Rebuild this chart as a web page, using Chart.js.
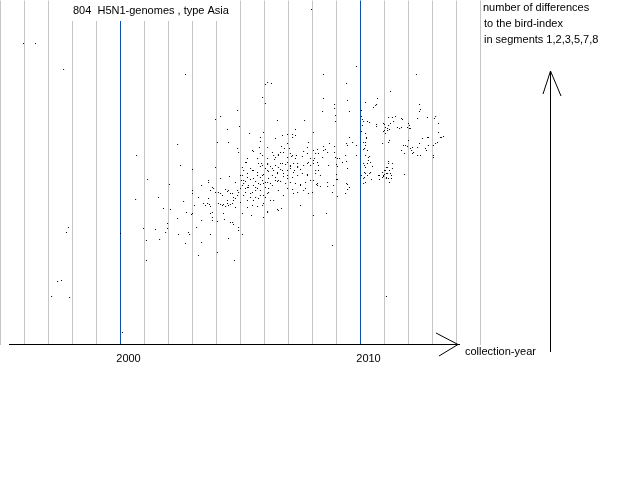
<!DOCTYPE html>
<html>
<head>
<meta charset="utf-8">
<title>804 H5N1-genomes, type Asia</title>
<script src="https://cdn.jsdelivr.net/npm/chart.js@4.4.1/dist/chart.umd.min.js"></script>
<style>
  html, body { margin: 0; padding: 0; background: #fff; }
  canvas { display: block; }
</style>
</head>
<body>
<canvas id="genomeChart" width="640" height="480"></canvas>
<script>
// [collection year, number of differences to the bird-index]
const pointsTo2002 = [
    [1995.96, 301], [1996.46, 301], [1997.63, 275], [1997.75, 112], [1997.83, 117], [1997.38, 63], [1997.54, 64],
    [1997.13, 48], [1997.88, 47], [2000.08, 12], [2000.0, 111], [2000.63, 145], [2000.67, 189], [2000.96, 116],
    [2001.08, 104], [2001.08, 84], [2001.13, 165], [2001.46, 115], [2001.63, 105], [2001.58, 147], [2001.79, 136],
    [2001.88, 112], [2001.96, 116], [2001.96, 121], [2002.08, 135], [2002.04, 160], [2002.38, 126], [2002.38, 200],
    [2002.42, 110], [2002.5, 179], [2002.63, 143], [2002.71, 270], [2002.75, 132], [2002.71, 101], [2002.83, 112],
    [2002.88, 110], [2002.96, 130]
];

const points2003to2005 = [
    [2003.0, 175], [2003.0, 154], [2003.0, 151], [2003.0, 131], [2003.08, 139], [2003.17, 117], [2003.25, 89],
    [2003.25, 147], [2003.38, 124], [2003.38, 102], [2003.38, 159], [2003.46, 141], [2003.54, 139], [2003.63, 141],
    [2003.67, 164], [2003.67, 162], [2003.67, 146], [2003.71, 140], [2003.75, 154], [2003.75, 138], [2003.75, 110],
    [2003.75, 131], [2003.83, 132], [2003.83, 127], [2003.83, 124], [2003.83, 157], [2003.88, 156], [2003.96, 225],
    [2003.96, 177], [2003.96, 152], [2004.04, 202], [2004.04, 92], [2004.04, 123], [2004.08, 152], [2004.08, 141],
    [2004.17, 228], [2004.17, 166], [2004.17, 151], [2004.17, 140], [2004.25, 149], [2004.25, 139], [2004.29, 140],
    [2004.29, 131], [2004.33, 125], [2004.38, 138], [2004.38, 155], [2004.46, 215], [2004.46, 141], [2004.46, 153],
    [2004.5, 202], [2004.5, 139], [2004.5, 154], [2004.5, 106], [2004.54, 168], [2004.58, 140], [2004.58, 151],
    [2004.58, 122], [2004.67, 141], [2004.67, 122], [2004.71, 144], [2004.71, 147], [2004.71, 120], [2004.75, 84],
    [2004.79, 146], [2004.88, 234], [2004.88, 196], [2004.88, 149], [2004.88, 154], [2004.92, 192], [2004.92, 117],
    [2004.92, 114], [2004.96, 218], [2005.0, 169], [2005.0, 156], [2005.04, 164], [2005.08, 131], [2005.08, 177],
    [2005.08, 159], [2005.08, 110], [2005.13, 161], [2005.13, 174], [2005.13, 149], [2005.21, 163], [2005.21, 152],
    [2005.25, 182], [2005.29, 186], [2005.29, 157], [2005.29, 144], [2005.29, 167], [2005.29, 137], [2005.33, 157],
    [2005.38, 211], [2005.42, 147], [2005.42, 176], [2005.42, 165], [2005.46, 129], [2005.5, 194], [2005.5, 152],
    [2005.54, 159], [2005.54, 144], [2005.54, 174], [2005.63, 163], [2005.63, 157], [2005.63, 147], [2005.71, 186],
    [2005.71, 156], [2005.71, 169], [2005.71, 138], [2005.75, 146], [2005.79, 197], [2005.83, 207], [2005.83, 203],
    [2005.83, 154], [2005.83, 178], [2005.83, 167], [2005.83, 160], [2005.88, 181], [2005.92, 247], [2005.92, 189],
    [2005.92, 139], [2005.92, 164], [2005.96, 212], [2005.96, 127], [2005.96, 161], [2005.96, 149], [2005.96, 170],
    [2005.54, 193], [2005.83, 191], [2005.21, 182], [2005.75, 181], [2005.92, 179], [2005.08, 169], [2005.29, 171],
    [2005.5, 174], [2005.71, 172], [2005.92, 169], [2004.79, 162], [2005.13, 164], [2005.33, 159], [2005.54, 166],
    [2005.75, 161], [2004.5, 154], [2004.67, 151], [2004.92, 152], [2005.21, 156], [2005.42, 151], [2005.63, 154],
    [2005.83, 149], [2004.46, 144], [2004.79, 137], [2005.0, 142], [2005.5, 139], [2005.96, 141]
];

const points2006to2008 = [
    [2006.04, 260], [2006.04, 241], [2006.04, 176], [2006.04, 162], [2006.04, 157], [2006.04, 147], [2006.13, 262],
    [2006.13, 151], [2006.13, 133], [2006.13, 180], [2006.13, 197], [2006.13, 186], [2006.17, 173], [2006.17, 166],
    [2006.17, 156], [2006.25, 144], [2006.25, 178], [2006.25, 161], [2006.29, 261], [2006.33, 169], [2006.38, 144],
    [2006.38, 174], [2006.38, 189], [2006.42, 185], [2006.46, 179], [2006.46, 167], [2006.46, 164], [2006.46, 206],
    [2006.46, 187], [2006.54, 163], [2006.54, 172], [2006.54, 224], [2006.54, 135], [2006.58, 177], [2006.58, 189],
    [2006.67, 175], [2006.67, 163], [2006.67, 192], [2006.71, 136], [2006.71, 198], [2006.75, 181], [2006.75, 209],
    [2006.79, 149], [2006.79, 171], [2006.79, 168], [2006.83, 196], [2006.88, 161], [2006.96, 182], [2006.96, 174],
    [2006.96, 166], [2006.96, 156], [2006.96, 210], [2006.96, 201], [2006.96, 187], [2007.04, 196], [2007.08, 179],
    [2007.08, 176], [2007.08, 162], [2007.08, 191], [2007.13, 188], [2007.17, 167], [2007.17, 155], [2007.17, 210],
    [2007.17, 207], [2007.21, 181], [2007.25, 174], [2007.29, 161], [2007.29, 215], [2007.29, 209], [2007.33, 189],
    [2007.38, 178], [2007.38, 177], [2007.38, 169], [2007.38, 152], [2007.5, 160], [2007.5, 139], [2007.58, 171],
    [2007.63, 179], [2007.63, 154], [2007.63, 193], [2007.67, 224], [2007.71, 162], [2007.79, 181], [2007.79, 169],
    [2007.79, 197], [2007.83, 151], [2007.83, 202], [2007.92, 179], [2007.96, 335], [2008.04, 181], [2008.04, 164],
    [2008.04, 129], [2008.04, 212], [2008.04, 194], [2008.08, 186], [2008.13, 171], [2008.17, 160], [2008.21, 182],
    [2008.21, 159], [2008.21, 195], [2008.25, 174], [2008.25, 191], [2008.33, 158], [2008.42, 233], [2008.46, 270],
    [2008.46, 246], [2008.46, 198], [2008.46, 194], [2008.54, 195], [2008.58, 131], [2008.63, 192], [2008.63, 162],
    [2008.63, 158], [2008.67, 179], [2008.71, 201], [2008.83, 152], [2008.83, 99], [2008.88, 159], [2008.92, 240],
    [2008.92, 236], [2008.92, 198], [2008.92, 192], [2008.96, 229], [2008.96, 223], [2008.96, 187],
    [2006.33, 192], [2006.58, 190], [2006.79, 192], [2007.17, 189], [2007.29, 186], [2007.58, 188], [2007.79, 191],
    [2007.92, 186], [2008.13, 191], [2008.42, 187], [2006.13, 181], [2006.67, 181], [2006.88, 180], [2007.08, 178],
    [2007.38, 181], [2007.83, 182], [2008.04, 184], [2008.25, 179], [2006.13, 174], [2006.33, 176], [2006.54, 171],
    [2006.75, 174], [2006.96, 169], [2007.21, 172], [2007.5, 175], [2007.79, 170], [2008.13, 174], [2008.33, 169],
    [2006.13, 162], [2006.33, 159], [2006.58, 164], [2007.5, 159], [2007.92, 164], [2008.21, 161], [2006.17, 152],
    [2006.58, 154], [2007.21, 151], [2007.71, 156], [2008.0, 152], [2006.13, 132], [2006.58, 134]
];

const points2009on = [
    [2009.0, 180], [2009.0, 170], [2009.0, 165], [2009.04, 178], [2009.04, 165], [2009.04, 148], [2009.04, 186],
    [2009.13, 186], [2009.25, 182], [2009.38, 151], [2009.38, 189], [2009.42, 261], [2009.42, 183], [2009.42, 161],
    [2009.42, 201], [2009.46, 244], [2009.46, 176], [2009.46, 160], [2009.46, 155], [2009.46, 199], [2009.54, 233],
    [2009.54, 157], [2009.54, 207], [2009.67, 202], [2009.83, 278], [2009.83, 199], [2009.83, 189], [2010.04, 234],
    [2010.04, 228], [2010.04, 213], [2010.04, 169], [2010.08, 225], [2010.13, 223], [2010.13, 202], [2010.13, 195],
    [2010.13, 166], [2010.13, 161], [2010.17, 179], [2010.17, 172], [2010.17, 167], [2010.21, 242], [2010.21, 211],
    [2010.21, 199], [2010.21, 189], [2010.21, 162], [2010.25, 207], [2010.29, 223], [2010.29, 181], [2010.38, 222],
    [2010.38, 188], [2010.38, 171], [2010.42, 182], [2010.46, 165], [2010.5, 178], [2010.54, 237], [2010.67, 240],
    [2010.67, 220], [2010.71, 246], [2010.75, 169], [2010.79, 165], [2010.92, 201], [2010.92, 172], [2010.96, 213],
    [2010.96, 168], [2011.0, 220], [2011.0, 170], [2011.04, 211], [2011.04, 174], [2011.08, 167], [2011.08, 166],
    [2011.08, 48], [2011.13, 214], [2011.13, 171], [2011.13, 177], [2011.17, 227], [2011.17, 181], [2011.17, 183],
    [2011.21, 215], [2011.21, 204], [2011.21, 174], [2011.21, 162], [2011.25, 253], [2011.25, 221], [2011.25, 171],
    [2011.29, 169], [2011.29, 166], [2011.33, 227], [2011.33, 181], [2011.33, 176], [2011.38, 223], [2011.46, 228],
    [2011.54, 217], [2011.71, 226], [2011.71, 217], [2011.71, 194], [2011.83, 191], [2011.83, 170], [2011.88, 199],
    [2012.0, 221], [2012.04, 216], [2012.13, 194], [2012.17, 197], [2012.21, 192], [2012.33, 270], [2012.38, 226],
    [2012.46, 240], [2012.46, 233], [2012.46, 201], [2012.5, 235], [2012.5, 189], [2012.58, 206], [2012.75, 194],
    [2012.79, 227], [2012.79, 207], [2013.04, 189], [2013.13, 228], [2013.13, 201], [2013.25, 221], [2013.25, 212],
    [2013.33, 207], [2013.46, 208],
    [2010.08, 219], [2010.63, 239], [2011.75, 225], [2013.08, 226], [2010.96, 221], [2011.04, 217], [2011.0, 214],
    [2011.13, 216], [2011.17, 219], [2011.63, 216], [2011.96, 217], [2012.04, 219], [2012.08, 216], [2010.67, 218],
    [2010.25, 206], [2010.21, 202], [2010.17, 196], [2010.29, 194], [2010.33, 187], [2010.33, 184], [2010.13, 181],
    [2010.21, 177], [2010.21, 171], [2010.29, 169], [2010.42, 172], [2011.08, 177], [2011.0, 174], [2011.08, 171],
    [2010.96, 169], [2010.92, 167], [2010.79, 169], [2011.17, 166], [2011.17, 202], [2011.79, 199], [2011.96, 198],
    [2012.08, 196], [2012.17, 191], [2012.38, 197], [2012.71, 196], [2012.83, 199], [2012.83, 207], [2013.04, 199],
    [2013.21, 202], [2013.38, 207], [2013.04, 187], [2012.38, 189], [2012.0, 204]
];

const FIRST_YEAR = 1995;
const LAST_GRID_YEAR = 2015;
const LABELLED_YEARS = [2000, 2010];

const GRID_GRAY = "#c6c6c6";
const GRID_BLUE = "#0a52a8";
const FONT = "Liberation Sans, Arial, sans-serif";

function toPoints(list) {
    return list.map(p => ({x: p[0], y: p[1]}));
}

const allPoints = []
    .concat(toPoints(pointsTo2002))
    .concat(toPoints(points2003to2005))
    .concat(toPoints(points2006to2008))
    .concat(toPoints(points2009on));

// title, side text and the two hand drawn arrows
const decorations = {
    id: "decorations",
    beforeDatasetsDraw(chart) {
        const ctx = chart.ctx;
        ctx.save();
        ctx.fillStyle = "#fff";
        ctx.fillRect(64, 0, 170, 21);
        ctx.restore();
    },
    afterDraw(chart) {
        const ctx = chart.ctx;
        const axisY = Math.floor(chart.chartArea.bottom) + 0.5;
        ctx.save();
        ctx.strokeStyle = "#000";
        ctx.lineWidth = 1;
        ctx.beginPath();
        ctx.moveTo(9, axisY);
        ctx.lineTo(460, axisY);
        ctx.moveTo(436, 333);
        ctx.lineTo(458, axisY);
        ctx.lineTo(439, 356);
        ctx.moveTo(550.5, 352);
        ctx.lineTo(550.5, 71);
        ctx.moveTo(543, 94);
        ctx.lineTo(550.5, 71);
        ctx.lineTo(561, 96);
        ctx.stroke();

        ctx.fillStyle = "#000";
        ctx.font = "11px " + FONT;
        ctx.textBaseline = "alphabetic";
        ctx.fillText("804  H5N1-genomes , type Asia", 73, 14);
        ctx.fillText("number of differences", 483, 11);
        ctx.fillText("to the bird-index", 484, 27);
        ctx.fillText("in segments 1,2,3,5,7,8", 484, 43);
        ctx.fillText("collection-year", 465, 355);
        ctx.restore();
    }
};

new Chart("genomeChart", {
    type: "scatter",
    data: {
        datasets: [{
            data: allPoints,
            pointStyle: "rect",
            pointRadius: 0.71,
            pointBorderWidth: 0,
            borderWidth: 0,
            backgroundColor: "#000",
            borderColor: "#000"
        }]
    },
    options: {
        responsive: false,
        animation: false,
        devicePixelRatio: 1,
        layout: {
            autoPadding: false,
            // half pixel offsets put every dot on a whole pixel
            padding: {left: 0.5, right: 0, top: 0.5, bottom: 114.3}
        },
        plugins: {
            legend: {display: false},
            tooltip: {enabled: false}
        },
        scales: {
            x: {
                type: "linear",
                min: FIRST_YEAR,
                max: FIRST_YEAR + 639.5 / 24,
                border: {display: false},
                grid: {
                    drawTicks: false,
                    lineWidth: 1,
                    color: ctx => {
                        const v = ctx.tick ? ctx.tick.value : 0;
                        if (v > LAST_GRID_YEAR) return "rgba(0,0,0,0)";
                        return LABELLED_YEARS.includes(v) ? GRID_BLUE : GRID_GRAY;
                    }
                },
                ticks: {
                    stepSize: 1,
                    autoSkip: false,
                    maxRotation: 0,
                    padding: 8,
                    labelOffset: 8,
                    color: "#000",
                    font: {family: FONT, size: 11},
                    callback: v => LABELLED_YEARS.includes(v) ? String(v) : ""
                },
                afterFit: scale => {
                    // year lines run to the canvas edges, labels sit just under the axis
                    scale.paddingLeft = 0;
                    scale.paddingRight = 0;
                    scale.height = 21.2;
                }
            },
            y: {
                display: false,
                min: 0,
                max: 344
            }
        }
    },
    plugins: [decorations]
});
</script>
</body>
</html>
